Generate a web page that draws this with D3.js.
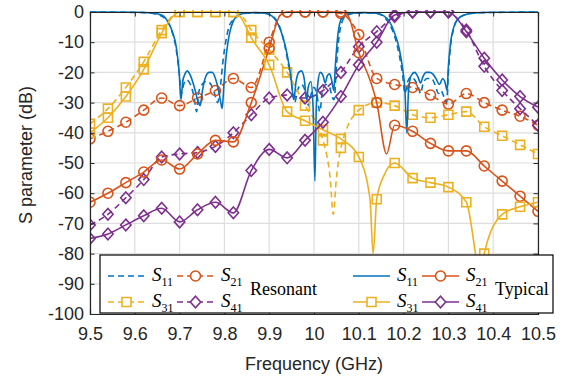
<!DOCTYPE html>
<html>
<head>
<meta charset="utf-8">
<script src="https://cdn.jsdelivr.net/npm/d3@7"></script>
<style>
  body { margin: 0; background: #fff; }
  .tick text { font-family: "Liberation Sans", Arial, sans-serif; font-size: 18px; fill: #262626; }
</style>
</head>
<body>
<div id="chart"></div>
<script>
// ---- data ----
const freqTicks = [9.5, 9.6, 9.7, 9.8, 9.9, 10, 10.1, 10.2, 10.3, 10.4, 10.5];
const dbTicks = [0, -10, -20, -30, -40, -50, -60, -70, -80, -90, -100];

// frequencies where the markers sit (every 0.04 GHz)
const markerFreq = [9.50, 9.54, 9.58, 9.62, 9.66, 9.70, 9.74, 9.78, 9.82, 9.86, 9.90, 9.94, 9.98,
  10.02, 10.06, 10.10, 10.14, 10.18, 10.22, 10.26, 10.30, 10.34, 10.38, 10.42, 10.46, 10.50];

// typical (solid)
const typS21 = [-63, -60, -56.5, -53, -49, -52, -47, -42.5, -43, -30, -12, 0, 0,
  0, 0, -13.5, -30, -37.5, -39.5, -43.5, -46, -46, -51, -56, -61, -66];
const typS21Extra = [[9.925, -1], [10.075, -1], [10.125, -22.5], [10.162, -47]];
const typS31 = [-40, -35, -28, -19, -7, 0, 0, 0, 0, -8.5, -17.5, -33, -36,
  -39, -42, -48, -62, -50, -55, -56.5, -58, -63, -80, -67, -64.5, -63];
const typS31Extra = [[9.685, -1.5], [9.835, -1.5], [10.125, -62], [10.132, -80], [10.155, -54.5], [10.376, -90]];
const typS41 = [-75, -73.5, -70.5, -67.5, -65, -69.5, -65.5, -63, -66.5, -52.5, -45.5, -48.3, -42.5,
  -36.5, -28, -17.5, -10, -1, 0, 0, 0, -6.5, -15.3, -22.5, -28, -31.5];
const typS41Extra = [[10.315, -1.5]];
const typS11 = [[9.50, 0], [9.60, -0.1], [9.64, -0.4], [9.66, -1], [9.675, -3.5], [9.685, -7], [9.693, -12],
  [9.699, -20], [9.703, -29], [9.707, -23], [9.712, -20.5], [9.717, -19.5], [9.724, -21], [9.733, -25],
  [9.741, -29.5], [9.746, -31], [9.751, -26], [9.758, -21.5], [9.766, -20], [9.773, -20], [9.78, -22],
  [9.787, -26], [9.792, -30], [9.795, -32], [9.799, -24], [9.803, -16], [9.808, -10], [9.814, -5.5],
  [9.82, -3], [9.83, -1.2], [9.845, -0.4], [9.87, -0.2], [9.89, -0.4], [9.905, -1.2], [9.918, -3.5],
  [9.93, -8], [9.94, -14], [9.948, -21], [9.955, -29], [9.96, -23], [9.966, -20], [9.972, -19.5],
  [9.978, -22], [9.984, -29], [9.987, -25], [9.993, -23], [9.998, -32], [10.002, -56], [10.005, -32],
  [10.009, -23], [10.014, -20], [10.02, -21], [10.025, -23.5], [10.03, -21], [10.035, -20.5], [10.04, -23],
  [10.044, -26], [10.048, -17], [10.053, -8], [10.058, -3.5], [10.065, -1.5], [10.08, -0.4], [10.11, -0.2],
  [10.14, -0.4], [10.155, -1.2], [10.168, -3], [10.18, -7], [10.19, -12], [10.198, -19], [10.203, -26],
  [10.207, -40], [10.211, -26], [10.217, -21], [10.225, -20], [10.232, -21.5], [10.238, -23.5],
  [10.243, -21.5], [10.25, -20], [10.258, -20], [10.265, -20.5], [10.272, -22], [10.28, -24], [10.287, -22],
  [10.292, -23], [10.297, -26], [10.30, -18], [10.305, -10], [10.312, -5], [10.32, -2.5], [10.335, -1],
  [10.36, -0.3], [10.40, -0.1], [10.50, 0]];

// resonant (dashed)
const resS21 = [-42, -39.5, -36.5, -32.5, -28.5, -31, -28.5, -26, -22, -25, -10, 0, 0,
  0, -0.5, -7.5, -22, -24, -25, -27.5, -30.5, -27, -30, -32.5, -34.5, -37.5];
const resS21Extra = [[9.925, -1]];
const resS31 = [-37, -32, -25, -16.5, -6, 0, 0, 0, 0, -6, -12.5, -20, -31,
  -42.5, -45, -32.5, -30, -31, -34, -35, -34, -33, -38, -41, -44, -47];
const resS31Extra = [[9.685, -1.2], [9.84, -1.5], [10.036, -55], [10.043, -67], [10.05, -55]];
const resS41 = [-70.5, -67, -61.5, -55.5, -48, -47, -46.5, -44.5, -40, -34, -28.5, -27.5, -28.5,
  -26, -20, -11.5, -6.5, -1.5, 0, 0, 0, -6, -18, -26, -32, -37.5];
const resS41Extra = [[10.315, -1.5]];
const resS11 = [[9.50, 0], [9.62, -0.2], [9.65, -0.8], [9.67, -2.5], [9.682, -6], [9.692, -12], [9.699, -20],
  [9.704, -27], [9.709, -24], [9.716, -22.5], [9.724, -24], [9.732, -28], [9.738, -33], [9.742, -27],
  [9.75, -24], [9.76, -23], [9.77, -24], [9.778, -27], [9.785, -30], [9.79, -26], [9.797, -16], [9.804, -9],
  [9.81, -5], [9.82, -2.5], [9.835, -0.8], [9.86, -0.3], [9.89, -0.4], [9.90, -0.8], [9.915, -2.5],
  [9.928, -7], [9.94, -15], [9.95, -24], [9.957, -30], [9.963, -26], [9.972, -24], [9.98, -26],
  [9.988, -31], [9.994, -27], [10.0, -25], [10.006, -27], [10.013, -33], [10.019, -26], [10.027, -24],
  [10.035, -25], [10.04, -28], [10.045, -29], [10.05, -18], [10.056, -8], [10.062, -3.5], [10.07, -1.5],
  [10.09, -0.4], [10.12, -0.3], [10.14, -0.5], [10.155, -1.5], [10.168, -4], [10.18, -8], [10.19, -14],
  [10.198, -21], [10.203, -27], [10.209, -23], [10.217, -21.5], [10.225, -22.5], [10.233, -25],
  [10.238, -27], [10.243, -24], [10.252, -22], [10.262, -22], [10.27, -24], [10.278, -27], [10.283, -26],
  [10.29, -28], [10.296, -30], [10.30, -20], [10.305, -11], [10.312, -5.5], [10.32, -2.5], [10.335, -1],
  [10.36, -0.3], [10.50, 0]];

// ---- chart ----
const width = 574, height = 385;
const plot = {left: 90, right: 538, top: 12, bottom: 314};

const colors = {s11: "#0072BD", s21: "#D95319", s31: "#EDB120", s41: "#7E2F8E"};

const x = d3.scaleLinear().domain([9.5, 10.5]).range([plot.left, plot.right]);
const y = d3.scaleLinear().domain([-100, 0]).range([plot.bottom, plot.top]);

const svg = d3.select("#chart").append("svg")
  .attr("width", width)
  .attr("height", height)
  .style("font-family", "'Liberation Sans', Arial, sans-serif");

// grid
svg.append("g").selectAll("line")
  .data(freqTicks)
  .join("line")
  .attr("x1", d => x(d)).attr("x2", d => x(d))
  .attr("y1", plot.top).attr("y2", plot.bottom)
  .attr("stroke", "#dedede").attr("stroke-width", 1.2);
svg.append("g").selectAll("line")
  .data(dbTicks)
  .join("line")
  .attr("x1", plot.left).attr("x2", plot.right)
  .attr("y1", d => y(d)).attr("y2", d => y(d))
  .attr("stroke", "#dedede").attr("stroke-width", 1.2);

svg.append("defs").append("clipPath").attr("id", "clip")
  .append("rect")
  .attr("x", plot.left).attr("y", plot.top - 2)
  .attr("width", plot.right - plot.left).attr("height", plot.bottom - plot.top + 2);

const line = d3.line()
  .x(d => x(d.f))
  .y(d => y(d.v))
  .curve(d3.curveMonotoneX);

function withMarkers(vals, extra) {
  const pts = markerFreq.map((f, i) => ({f: f, v: vals[i], m: true}))
    .concat(extra.map(e => ({f: e[0], v: e[1], m: false})));
  return pts.sort((a, b) => a.f - b.f);
}

const markerPath = {
  circle: "M5,0A5,5 0 1,1 -5,0A5,5 0 1,1 5,0Z",
  square: "M-4.5,-4.5H4.5V4.5H-4.5Z",
  diamond: "M0,-5.8L5.2,0L0,5.8L-5.2,0Z"
};

const series = [
  {pts: resS11.map(p => ({f: p[0], v: p[1]})), color: colors.s11, dash: "6,4", marker: null},
  {pts: withMarkers(resS21, resS21Extra), color: colors.s21, dash: "6,4", marker: "circle"},
  {pts: withMarkers(resS31, resS31Extra), color: colors.s31, dash: "6,4", marker: "square"},
  {pts: withMarkers(resS41, resS41Extra), color: colors.s41, dash: "6,4", marker: "diamond"},
  {pts: typS11.map(p => ({f: p[0], v: p[1]})), color: colors.s11, dash: null, marker: null},
  {pts: withMarkers(typS21, typS21Extra), color: colors.s21, dash: null, marker: "circle"},
  {pts: withMarkers(typS31, typS31Extra), color: colors.s31, dash: null, marker: "square"},
  {pts: withMarkers(typS41, typS41Extra), color: colors.s41, dash: null, marker: "diamond"}
];

const plotG = svg.append("g").attr("clip-path", "url(#clip)");

series.forEach(s => {
  plotG.append("path")
    .datum(s.pts)
    .attr("d", line)
    .attr("fill", "none")
    .attr("stroke", s.color)
    .attr("stroke-width", 1.6)
    .attr("stroke-dasharray", s.dash);
  if (s.marker) {
    plotG.append("g").selectAll("path")
      .data(s.pts.filter(d => d.m))
      .join("path")
      .attr("transform", d => "translate(" + x(d.f) + "," + y(d.v) + ")")
      .attr("d", markerPath[s.marker])
      .attr("fill", "none")
      .attr("stroke", s.color)
      .attr("stroke-width", 1.6);
  }
});

// axes (ticks point inward, box on)
const axisColor = "#262626";
const gx = svg.append("g")
  .attr("transform", "translate(0," + plot.bottom + ")")
  .call(d3.axisBottom(x).tickValues(freqTicks).tickSize(-4.5).tickPadding(13).tickFormat(d3.format("")));
const gy = svg.append("g")
  .attr("transform", "translate(" + plot.left + ",0)")
  .call(d3.axisLeft(y).tickValues(dbTicks).tickSize(-4.5).tickPadding(6).tickFormat(d3.format("")));
const gt = svg.append("g")
  .attr("transform", "translate(0," + plot.top + ")")
  .call(d3.axisTop(x).tickValues(freqTicks).tickSize(-4.5).tickFormat(""));
const gr = svg.append("g")
  .attr("transform", "translate(" + plot.right + ",0)")
  .call(d3.axisRight(y).tickValues(dbTicks).tickSize(-4.5).tickFormat(""));
[gx, gy, gt, gr].forEach(g => {
  g.select(".domain").attr("stroke", axisColor).attr("stroke-width", 1.2);
  g.selectAll(".tick line").attr("stroke", axisColor);
});
gx.selectAll(".tick text").text(d => d === 10 ? "10" : d.toFixed(1).replace("-", "-"));
gy.selectAll(".tick text").text(d => d.toString());

// axis labels
svg.append("text")
  .attr("x", (plot.left + plot.right) / 2)
  .attr("y", 370)
  .attr("text-anchor", "middle")
  .attr("font-size", 18)
  .attr("fill", axisColor)
  .text("Frequency (GHz)");
svg.append("text")
  .attr("transform", "translate(32,155) rotate(-90)")
  .attr("text-anchor", "middle")
  .attr("font-size", 18)
  .attr("fill", axisColor)
  .text("S parameter (dB)");

// legend
const legend = svg.append("g").style("font-family", "'Liberation Serif', 'Times New Roman', serif");
legend.append("rect")
  .attr("x", 100).attr("y", 255)
  .attr("width", 453).attr("height", 58)
  .attr("fill", "#fff").attr("stroke", "#000").attr("stroke-width", 1.2);

const legendItems = [
  {x0: 108, row: 0, color: colors.s11, dash: "6,4", marker: null, sub: "11"},
  {x0: 177, row: 0, color: colors.s21, dash: "6,4", marker: "circle", sub: "21"},
  {x0: 108, row: 1, color: colors.s31, dash: "6,4", marker: "square", sub: "31"},
  {x0: 177, row: 1, color: colors.s41, dash: "6,4", marker: "diamond", sub: "41"},
  {x0: 353, row: 0, color: colors.s11, dash: null, marker: null, sub: "11"},
  {x0: 422, row: 0, color: colors.s21, dash: null, marker: "circle", sub: "21"},
  {x0: 353, row: 1, color: colors.s31, dash: null, marker: "square", sub: "31"},
  {x0: 422, row: 1, color: colors.s41, dash: null, marker: "diamond", sub: "41"}
];
const rowY = [276, 302];

legendItems.forEach(it => {
  const cy = rowY[it.row];
  legend.append("line")
    .attr("x1", it.x0).attr("x2", it.x0 + 37)
    .attr("y1", cy).attr("y2", cy)
    .attr("stroke", it.color).attr("stroke-width", 1.6)
    .attr("stroke-dasharray", it.dash);
  if (it.marker) {
    legend.append("path")
      .attr("transform", "translate(" + (it.x0 + 18.5) + "," + cy + ")")
      .attr("d", markerPath[it.marker])
      .attr("fill", "#fff")
      .attr("stroke", it.color).attr("stroke-width", 1.6);
  }
  const t = legend.append("text")
    .attr("x", it.x0 + 44).attr("y", cy + 5)
    .attr("font-size", 19).attr("fill", "#000");
  t.append("tspan").attr("font-style", "italic").text("S");
  t.append("tspan").attr("font-size", 12).attr("dy", 5).text(it.sub);
});
legend.append("text").attr("x", 250).attr("y", 295).attr("font-size", 18).text("Resonant");
legend.append("text").attr("x", 495).attr("y", 295).attr("font-size", 18).text("Typical");
</script>
</body>
</html>
